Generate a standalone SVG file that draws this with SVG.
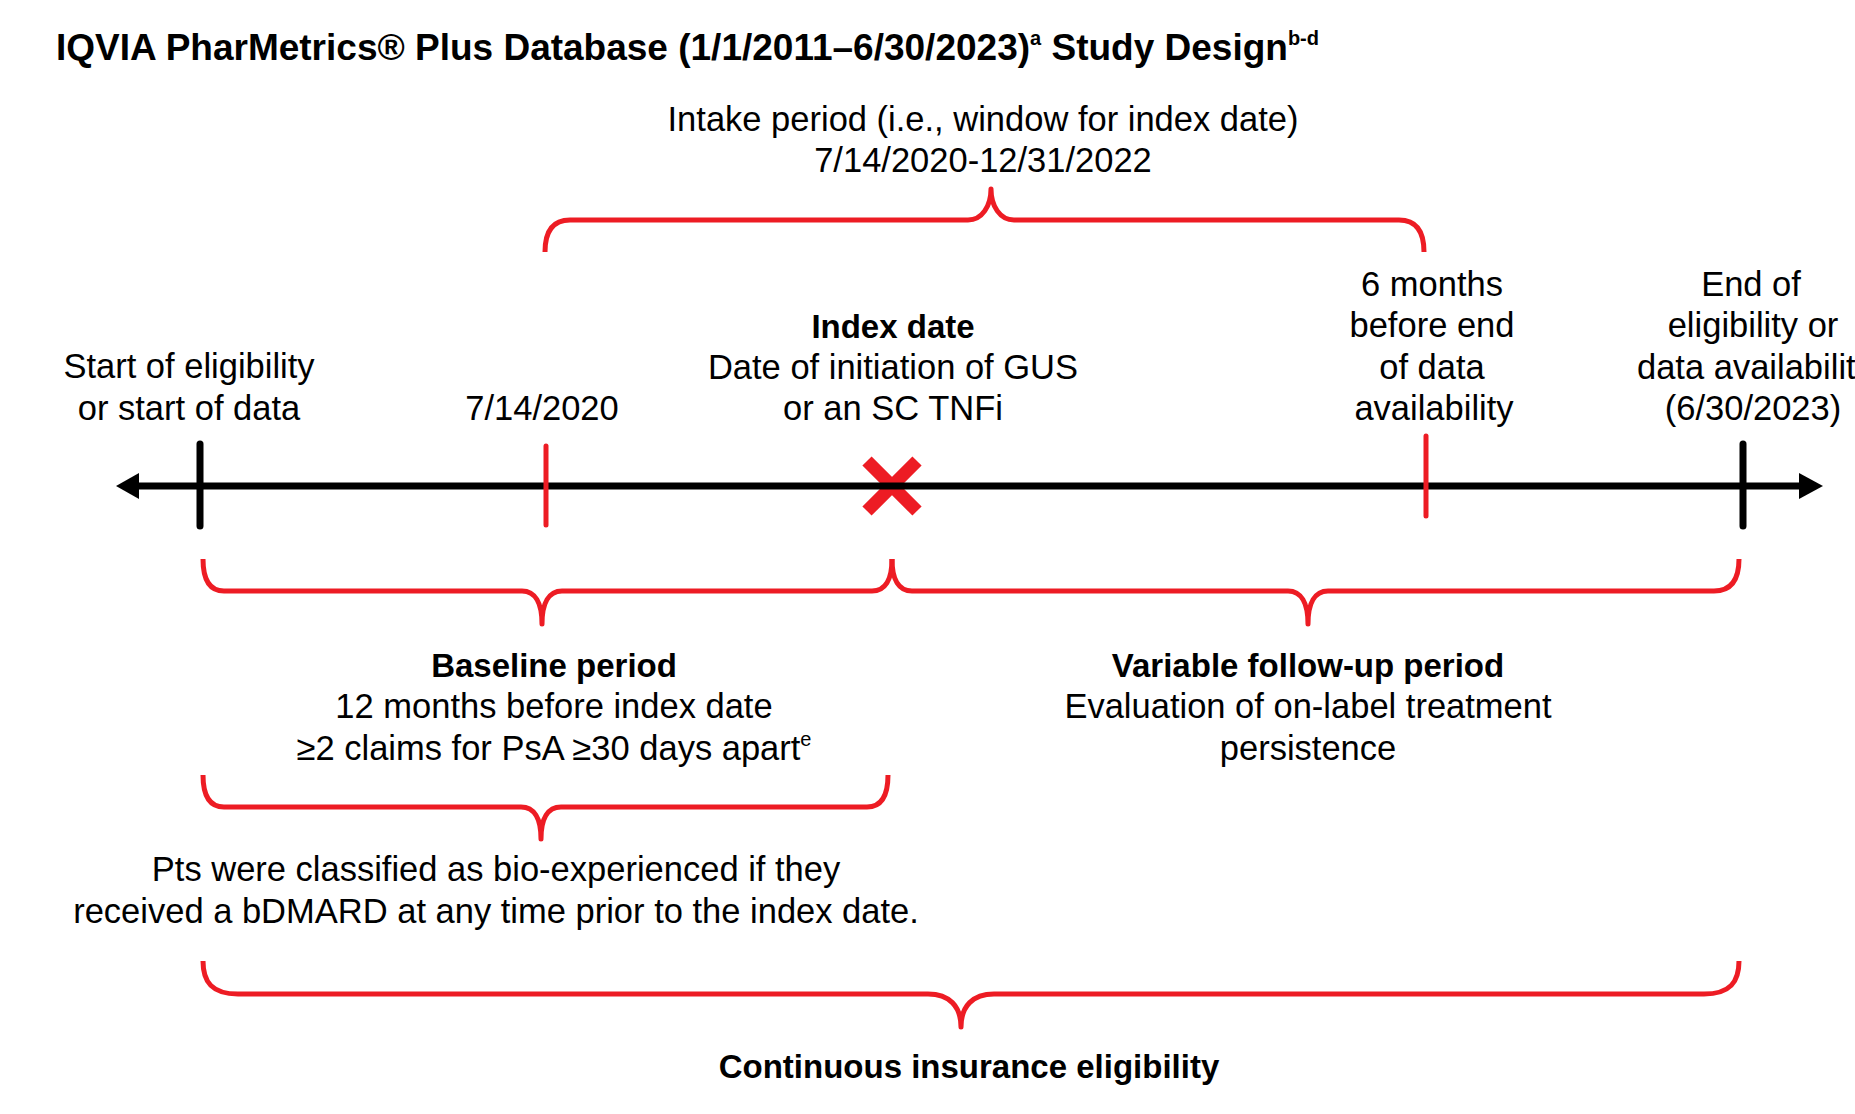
<svg xmlns="http://www.w3.org/2000/svg" width="1855" height="1114" viewBox="0 0 1855 1114">
<style>
  text { font-family: "Liberation Sans", Arial, sans-serif; fill: #000; }
  .t { font-size: 34.5px; text-anchor: middle; }
  .b { font-weight: bold; font-size: 33px; }
  .title { font-size: 37px; font-weight: bold; }
  .sup { font-size: 20px; }
  .brace { fill: none; stroke: #ED1C24; stroke-width: 5; stroke-linejoin: round; }
  .tickK { stroke: #000; stroke-width: 7; stroke-linecap: round; }
  .tickR { stroke: #ED1C24; stroke-width: 5; stroke-linecap: round; }
</style>
<rect width="1855" height="1114" fill="#fff"/>

<g id="title">
  <text class="title" x="56" y="60">IQVIA PharMetrics® Plus Database (1/1/2011–6/30/2023)<tspan class="sup" dy="-15">a</tspan><tspan dy="15"> Study Design</tspan><tspan class="sup" dy="-15">b-d</tspan></text>
</g>

<g id="intake-label">
  <text class="t" x="983" y="131">Intake period (i.e., window for index date)</text>
  <text class="t" x="983" y="172">7/14/2020-12/31/2022</text>
</g>

<g id="start-label">
  <text class="t" x="189" y="378">Start of eligibility</text>
  <text class="t" x="189" y="420">or start of data</text>
</g>

<g id="date-label">
  <text class="t" x="542" y="420">7/14/2020</text>
</g>

<g id="index-label">
  <text class="t b" x="893" y="338">Index date</text>
  <text class="t" x="893" y="379">Date of initiation of GUS</text>
  <text class="t" x="893" y="420">or an SC TNFi</text>
</g>

<g id="six-months-label">
  <text class="t" x="1432" y="296">6 months</text>
  <text class="t" x="1432" y="337">before end</text>
  <text class="t" x="1432" y="379">of data</text>
  <text class="t" x="1434" y="420">availability</text>
</g>

<g id="end-label">
  <text class="t" x="1751" y="296">End of</text>
  <text class="t" x="1753" y="337">eligibility or</text>
  <text x="1637" y="379" style="font-size:34.5px">data availabilit</text>
  <text class="t" x="1753" y="420">(6/30/2023)</text>
</g>

<g id="baseline-label">
  <text class="t b" x="554" y="677">Baseline period</text>
  <text class="t" x="554" y="718">12 months before index date</text>
  <text class="t" x="554" y="760">≥2 claims for PsA ≥30 days apart<tspan class="sup" dy="-14">e</tspan></text>
</g>

<g id="followup-label">
  <text class="t b" x="1308" y="677">Variable follow-up period</text>
  <text class="t" x="1308" y="718">Evaluation of on-label treatment</text>
  <text class="t" x="1308" y="760">persistence</text>
</g>

<g id="bio-label">
  <text class="t" x="496" y="881">Pts were classified as bio-experienced if they</text>
  <text class="t" x="496" y="923">received a bDMARD at any time prior to the index date.</text>
</g>

<g id="continuous-label">
  <text class="t b" x="969" y="1078">Continuous insurance eligibility</text>
</g>

<g id="index-marker">
  <line x1="867" y1="461" x2="917" y2="511" stroke="#ED1C24" stroke-width="13"/>
  <line x1="917" y1="461" x2="867" y2="511" stroke="#ED1C24" stroke-width="13"/>
</g>

<g id="connectors">
  <line x1="132" y1="486" x2="1806" y2="486" stroke="#000" stroke-width="7"/>
  <polygon points="116,486 139,473 139,499" fill="#000"/>
  <polygon points="1823,486 1799,473 1799,499" fill="#000"/>
  <line class="tickK" x1="200" y1="444" x2="200" y2="526"/>
  <line class="tickK" x1="1743" y1="444" x2="1743" y2="526"/>
  <line class="tickR" x1="546" y1="446" x2="546" y2="525"/>
  <line class="tickR" x1="1426" y1="436" x2="1426" y2="516"/>

  <path class="brace" d="M545,252 C545,231 553,220 570,220 L968,220 C982,220 991,206 991,189 C991,206 1000,220 1014,220 L1399,220 C1416,220 1424,231 1424,252"/>
  <path class="brace" d="M203,559 C203,580 210,591 224,591 L522,591 C535,591 542,603 542,624 C542,603 549,591 562,591 L872,591 C885,591 892,580 892,559"/>
  <path class="brace" d="M892,559 C892,580 899,591 912,591 L1288,591 C1301,591 1308,603 1308,624 C1308,603 1315,591 1328,591 L1714,591 C1731,591 1739,580 1739,559"/>
  <path class="brace" d="M203,775 C203,796 210,807 224,807 L521,807 C534,807 541,818 541,839 C541,818 548,807 561,807 L867,807 C881,807 888,796 888,775"/>
  <path class="brace" d="M203,961 C203,982 212,994 238,994 L928,994 C949,994 961,1006 961,1027 C961,1006 973,994 994,994 L1704,994 C1730,994 1739,982 1739,961"/>
</g>
</svg>
